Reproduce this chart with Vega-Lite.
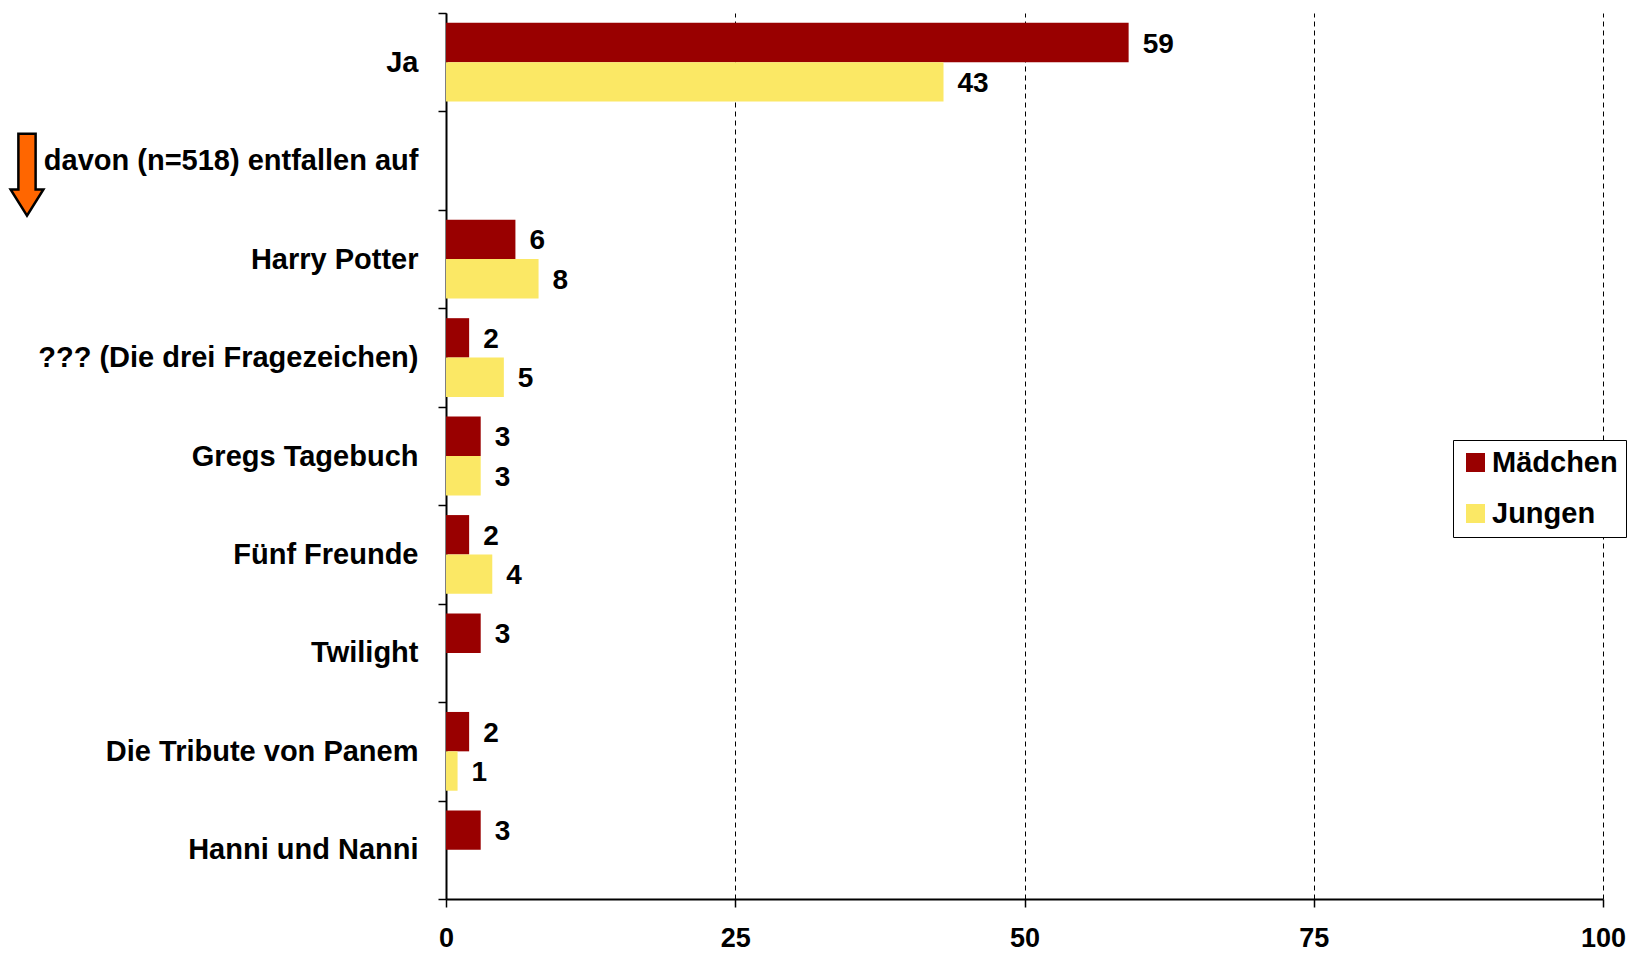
{
  "$schema": "https://vega.github.io/schema/vega-lite/v6.json",
  "width": 1157,
  "height": 886,
  "autosize": "none",
  "padding": {"left": 446, "top": 13, "right": 39, "bottom": 60},
  "background": "white",
  "config": {"view": {"stroke": null}, "font": "Liberation Sans"},
  "datasets": {
    "bars": [
      {"category": "Ja", "gender": "Mädchen", "value": 59},
      {"category": "Ja", "gender": "Jungen", "value": 43},
      {"category": "Harry Potter", "gender": "Mädchen", "value": 6},
      {"category": "Harry Potter", "gender": "Jungen", "value": 8},
      {"category": "??? (Die drei Fragezeichen)", "gender": "Mädchen", "value": 2},
      {"category": "??? (Die drei Fragezeichen)", "gender": "Jungen", "value": 5},
      {"category": "Gregs Tagebuch", "gender": "Mädchen", "value": 3},
      {"category": "Gregs Tagebuch", "gender": "Jungen", "value": 3},
      {"category": "Fünf Freunde", "gender": "Mädchen", "value": 2},
      {"category": "Fünf Freunde", "gender": "Jungen", "value": 4},
      {"category": "Twilight", "gender": "Mädchen", "value": 3},
      {"category": "Die Tribute von Panem", "gender": "Mädchen", "value": 2},
      {"category": "Die Tribute von Panem", "gender": "Jungen", "value": 1},
      {"category": "Hanni und Nanni", "gender": "Mädchen", "value": 3}
    ],
    "arrow": [{"category": "davon (n=518) entfallen auf"}]
  },
  "layer": [
    {
      "data": {"name": "bars"},
      "mark": {"type": "bar"},
      "encoding": {
        "y": {
          "field": "category", "type": "nominal",
          "scale": {"domain": ["Ja", "davon (n=518) entfallen auf", "Harry Potter", "??? (Die drei Fragezeichen)", "Gregs Tagebuch", "Fünf Freunde", "Twilight", "Die Tribute von Panem", "Hanni und Nanni"], "paddingInner": 0, "paddingOuter": 0},
          "axis": {
            "title": null, "domainColor": "black", "domainWidth": 2,
            "ticks": true, "tickBand": "extent", "tickSize": 8, "tickColor": "black", "tickWidth": 1.5,
            "labelFontSize": 29, "labelFontWeight": "bold", "labelColor": "black",
            "labelPadding": 20, "labelLimit": 600
          }
        },
        "yOffset": {"field": "gender", "type": "nominal", "scale": {"domain": ["Mädchen", "Jungen"], "paddingInner": 0, "paddingOuter": 0.25}},
        "x": {
          "field": "value", "type": "quantitative",
          "scale": {"domain": [0, 100], "nice": false},
          "axis": {
            "title": null, "values": [0, 25, 50, 75, 100], "labelFlush": false,
            "grid": true, "gridColor": "black", "gridDash": [5, 4], "gridWidth": 1, "gridOpacity": 1,
            "domainColor": "black", "domainWidth": 2,
            "tickSize": 8, "tickColor": "black", "tickWidth": 1.5,
            "labelFontSize": 27, "labelFontWeight": "bold", "labelColor": "black", "labelPadding": 18
          }
        },
        "color": {
          "field": "gender", "type": "nominal",
          "scale": {"domain": ["Mädchen", "Jungen"], "range": ["#990000", "#FBE865"]},
          "legend": {
            "title": null, "orient": "none", "legendX": 1007, "legendY": 427,
            "strokeColor": "black", "fillColor": "white", "padding": 8,
            "symbolType": "square", "symbolSize": 361, "symbolStrokeWidth": 0,
            "labelFontSize": 29, "labelFontWeight": "bold", "labelColor": "black",
            "rowPadding": 21, "labelOffset": 2
          }
        }
      }
    },
    {
      "data": {"name": "bars"},
      "mark": {"type": "text", "align": "left", "baseline": "middle", "dx": 14, "dy": 2, "fontSize": 28, "fontWeight": "bold", "color": "black"},
      "encoding": {
        "y": {"field": "category", "type": "nominal"},
        "yOffset": {"field": "gender", "type": "nominal", "scale": {"domain": ["Mädchen", "Jungen"], "paddingInner": 0, "paddingOuter": 0.25}},
        "x": {"field": "value", "type": "quantitative"},
        "text": {"field": "value", "type": "quantitative"}
      }
    },
    {
      "data": {"name": "arrow"},
      "mark": {
        "type": "point",
        "shape": "M -0.21 -1 L 0.21 -1 L 0.21 0.36 L 0.4 0.36 L 0 1 L -0.4 0.36 L -0.21 0.36 Z",
        "filled": true, "fill": "#FF6600", "stroke": "black", "strokeWidth": 2.5,
        "size": 6724, "opacity": 1, "xOffset": -419, "yOffset": 14
      },
      "encoding": {
        "y": {"field": "category", "type": "nominal"},
        "x": {"datum": 0}
      }
    }
  ]
}
